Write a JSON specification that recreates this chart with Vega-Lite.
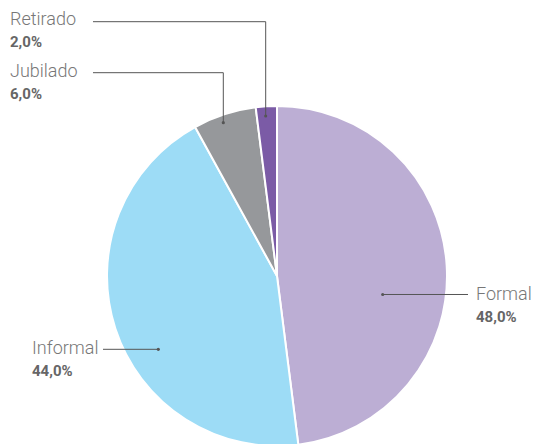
{
  "$schema": "https://vega.github.io/schema/vega-lite/v6.json",
  "width": 535,
  "height": 444,
  "autosize": {"type": "none"},
  "padding": 0,
  "background": "white",
  "config": {"view": {"stroke": null}},
  "datasets": {
    "sectores": [
      {"categoria": "Formal", "porcentaje": 48, "orden": 1},
      {"categoria": "Informal", "porcentaje": 44, "orden": 2},
      {"categoria": "Jubilado", "porcentaje": 6, "orden": 3},
      {"categoria": "Retirado", "porcentaje": 2, "orden": 4}
    ],
    "guias": [
      {"categoria": "Formal", "paso": 1, "x": 62.18, "y": -10.88, "punto": true},
      {"categoria": "Formal", "paso": 2, "x": 112.35, "y": -10.88, "punto": false},
      {"categoria": "Informal", "paso": 1, "x": -102.35, "y": -43.12, "punto": false},
      {"categoria": "Informal", "paso": 2, "x": -69.82, "y": -43.12, "punto": true},
      {"categoria": "Jubilado", "paso": 1, "x": -108.24, "y": 119.59, "punto": false},
      {"categoria": "Jubilado", "paso": 2, "x": -31.59, "y": 119.59, "punto": false},
      {"categoria": "Jubilado", "paso": 3, "x": -31.59, "y": 90.18, "punto": true},
      {"categoria": "Retirado", "paso": 1, "x": -108.24, "y": 149.59, "punto": false},
      {"categoria": "Retirado", "paso": 2, "x": -6.65, "y": 149.59, "punto": false},
      {"categoria": "Retirado", "paso": 3, "x": -6.65, "y": 94.12, "punto": true}
    ],
    "etiquetas": [
      {"categoria": "Formal", "valor": "48,0%", "x": 117.06, "y_nombre": -11.18, "y_valor": -24.12},
      {"categoria": "Informal", "valor": "44,0%", "x": -144.12, "y_nombre": -42.94, "y_valor": -55.88},
      {"categoria": "Jubilado", "valor": "6,0%", "x": -157.06, "y_nombre": 120.0, "y_valor": 107.06},
      {"categoria": "Retirado", "valor": "2,0%", "x": -157.06, "y_nombre": 150.59, "y_valor": 137.65}
    ]
  },
  "layer": [
    {
      "data": {"name": "sectores"},
      "mark": {"type": "arc", "outerRadius": 170, "stroke": "white", "strokeWidth": 2},
      "encoding": {
        "theta": {"field": "porcentaje", "type": "quantitative", "stack": true},
        "order": {"field": "orden", "type": "quantitative"},
        "color": {
          "field": "categoria",
          "type": "nominal",
          "scale": {
            "domain": ["Formal", "Informal", "Jubilado", "Retirado"],
            "range": ["#bcaed4", "#9ddcf6", "#96989b", "#7b5ba6"]
          },
          "legend": null
        },
        "x": {"datum": 0, "type": "quantitative", "scale": {"domain": [-162.94, 151.76], "nice": false, "zero": false}, "axis": null},
        "y": {"datum": 0, "type": "quantitative", "scale": {"domain": [-98.82, 162.35], "nice": false, "zero": false}, "axis": null}
      }
    },
    {
      "data": {"name": "guias"},
      "mark": {"type": "line", "color": "#555555", "strokeWidth": 1},
      "encoding": {
        "x": {"field": "x", "type": "quantitative", "axis": null},
        "y": {"field": "y", "type": "quantitative", "axis": null},
        "detail": {"field": "categoria", "type": "nominal"},
        "order": {"field": "paso", "type": "quantitative"}
      }
    },
    {
      "data": {"name": "guias"},
      "transform": [{"filter": "datum.punto"}],
      "mark": {"type": "point", "filled": true, "color": "#555555", "size": 10, "opacity": 1},
      "encoding": {
        "x": {"field": "x", "type": "quantitative", "axis": null},
        "y": {"field": "y", "type": "quantitative", "axis": null}
      }
    },
    {
      "data": {"name": "etiquetas"},
      "mark": {"type": "text", "align": "left", "baseline": "middle", "font": "Roboto", "fontWeight": 300, "fontSize": 18, "color": "#777777"},
      "encoding": {
        "x": {"field": "x", "type": "quantitative", "axis": null},
        "y": {"field": "y_nombre", "type": "quantitative", "axis": null},
        "text": {"field": "categoria", "type": "nominal"}
      }
    },
    {
      "data": {"name": "etiquetas"},
      "mark": {"type": "text", "align": "left", "baseline": "middle", "font": "Roboto", "fontWeight": "bold", "fontSize": 15, "color": "#666666"},
      "encoding": {
        "x": {"field": "x", "type": "quantitative", "axis": null},
        "y": {"field": "y_valor", "type": "quantitative", "axis": null},
        "text": {"field": "valor", "type": "nominal"}
      }
    }
  ]
}
